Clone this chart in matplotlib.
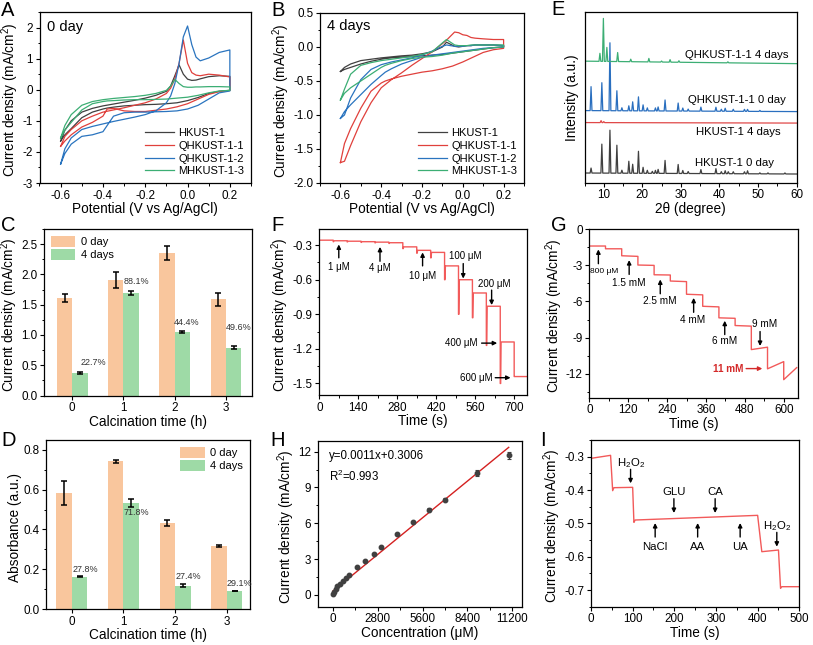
import numpy as np
import matplotlib
matplotlib.use("Agg")
import matplotlib.pyplot as plt
from matplotlib.ticker import MultipleLocator

plt.rcParams["font.family"] = ["Liberation Sans", "DejaVu Sans"]
plt.rcParams["mathtext.fontset"] = "custom"
plt.rcParams["mathtext.rm"] = "Liberation Sans"
plt.rcParams["mathtext.it"] = "Liberation Sans:italic"
plt.rcParams["axes.unicode_minus"] = False
plt.rcParams["axes.linewidth"] = 0.9

W, H = 813, 645

# ---------------- data ----------------
# CV curves (A: 0 day, B: 4 days) on forward / reverse potential grids
e_fwd = [-0.6, -0.58, -0.55, -0.5, -0.45, -0.4, -0.35, -0.3, -0.25, -0.2, -0.15, -0.1,
         -0.08, -0.06, -0.04, -0.02, 0.0, 0.02, 0.04, 0.06, 0.1, 0.15, 0.2]
e_rev = [0.2, 0.15, 0.1, 0.05, 0.0, -0.05, -0.1, -0.15, -0.2, -0.25, -0.3, -0.35, -0.38,
         -0.4, -0.45, -0.5, -0.55, -0.58, -0.6]
cv_names = ["HKUST-1", "QHKUST-1-1", "QHKUST-1-2", "MHKUST-1-3"]
cv_colors = ["#404040", "#e0403c", "#2a74bf", "#3cae74"]

a_fwd_hk = [-1.65, -1.3, -1.0, -0.72, -0.6, -0.52, -0.46, -0.4, -0.34, -0.27, -0.18, -0.05,
            0.12, 0.45, 0.8, 0.5, 0.34, 0.3, 0.31, 0.35, 0.42, 0.45, 0.43]
a_rev_hk = [-0.02, -0.05, -0.12, -0.25, -0.35, -0.42, -0.45, -0.47, -0.48, -0.5, -0.52, -0.56,
            -0.59, -0.62, -0.72, -0.9, -1.25, -1.45, -1.65]
a_fwd_q1 = [-1.82, -1.5, -1.28, -1.0, -0.85, -0.72, -0.65, -0.58, -0.5, -0.42, -0.3, -0.12,
            0.05, 0.35, 0.85, 1.6, 0.85, 0.55, 0.47, 0.45, 0.5, 0.47, 0.41]
a_rev_q1 = [-0.02, -0.06, -0.15, -0.3, -0.45, -0.55, -0.62, -0.66, -0.7, -0.7, -0.68, -0.6,
            -0.62, -0.85, -1.05, -1.2, -1.45, -1.65, -1.82]
a_fwd_q2 = [-2.39, -1.9, -1.55, -1.28, -1.18, -1.1, -1.02, -0.95, -0.88, -0.8, -0.68, -0.42,
            -0.2, 0.2, 0.85, 1.7, 2.05, 1.45, 1.05, 0.93, 1.02, 1.2, 1.28]
a_rev_q2 = [-0.04, -0.1, -0.3, -0.5, -0.62, -0.68, -0.7, -0.71, -0.72, -0.72, -0.74, -0.85,
            -1.15, -1.35, -1.45, -1.5, -1.75, -2.05, -2.39]
a_fwd_m3 = [-1.55, -1.15, -0.8, -0.5, -0.38, -0.32, -0.28, -0.25, -0.22, -0.18, -0.12, -0.02,
            0.12, 0.33, 0.2, 0.1, 0.08, 0.08, 0.09, 0.09, 0.1, 0.1, 0.09]
a_rev_m3 = [-0.02, -0.04, -0.1, -0.18, -0.24, -0.27, -0.3, -0.31, -0.32, -0.32, -0.33, -0.35,
            -0.36, -0.38, -0.45, -0.65, -1.05, -1.3, -1.55]

b_fwd_hk = [-0.36, -0.3, -0.25, -0.2, -0.18, -0.16, -0.145, -0.13, -0.12, -0.1, -0.07, 0.0,
            0.07, 0.04, 0.01, 0.0, 0.01, 0.02, 0.02, 0.03, 0.03, 0.03, 0.02]
b_rev_hk = [0.0, -0.01, -0.03, -0.05, -0.07, -0.09, -0.11, -0.12, -0.13, -0.14, -0.15, -0.16,
            -0.17, -0.18, -0.21, -0.25, -0.3, -0.33, -0.36]
b_fwd_q1 = [-1.7, -1.68, -1.45, -1.1, -0.82, -0.6, -0.48, -0.38, -0.27, -0.17, -0.07, 0.05,
            0.1, 0.16, 0.22, 0.21, 0.18, 0.17, 0.14, 0.13, 0.12, 0.11, 0.11]
b_rev_q1 = [-0.02, -0.04, -0.08, -0.15, -0.22, -0.28, -0.32, -0.35, -0.37, -0.4, -0.43, -0.47,
            -0.5, -0.53, -0.65, -0.9, -1.2, -1.42, -1.7]
b_fwd_q2 = [-1.05, -1.0, -0.75, -0.48, -0.33, -0.26, -0.22, -0.19, -0.16, -0.12, -0.06, 0.01,
            0.03, 0.02, 0.01, 0.01, 0.01, 0.02, 0.02, 0.03, 0.03, 0.03, 0.02]
b_rev_q2 = [0.0, -0.01, -0.02, -0.04, -0.06, -0.08, -0.1, -0.12, -0.15, -0.2, -0.25, -0.32,
            -0.37, -0.42, -0.55, -0.7, -0.85, -0.95, -1.05]
b_fwd_m3 = [-0.78, -0.62, -0.4, -0.27, -0.23, -0.2, -0.18, -0.16, -0.14, -0.11, -0.07, 0.06,
            0.11, 0.07, 0.03, 0.02, 0.02, 0.02, 0.03, 0.03, 0.03, 0.03, 0.03]
b_rev_m3 = [0.0, -0.01, -0.03, -0.05, -0.07, -0.09, -0.12, -0.14, -0.15, -0.17, -0.2, -0.24,
            -0.27, -0.3, -0.4, -0.5, -0.6, -0.68, -0.78]

# XRD (E): peak positions (2theta) and heights, baselines (start, end)
xrd_hk0_pos = [6.7, 9.5, 11.6, 13.4, 14.7, 16.5, 17.5, 19.0, 20.2, 21.3, 22.6, 23.4, 24.1, 25.9,
               29.3, 30.5, 31.9, 35.2, 39.1, 40.5, 41.5, 42.3, 43.6, 46.5, 47.3, 50.5, 52.6, 57.0]
xrd_hk0_h = [5, 29, 43, 28, 3, 12, 9, 22, 6, 3, 2, 3, 4, 13, 9, 3, 2, 4, 5, 2, 3, 2, 2, 2, 3, 1, 1, 1]
xrd_q0_pos = [6.7, 9.5, 11.6, 13.4, 14.7, 16.5, 17.5, 19.0, 20.2, 21.3, 23.4, 24.1, 25.9, 29.3,
              30.5, 31.9, 35.2, 39.1, 40.5, 41.5, 43.6, 46.5, 47.3, 50.5]
xrd_q0_h = [24, 28, 68, 20, 3, 5, 9, 14, 6, 3, 3, 4, 11, 8, 3, 2, 4, 4, 2, 3, 2, 2, 2, 1]
xrd_q4_pos = [9.0, 9.9, 10.8, 13.6, 17.0, 21.7, 25.0, 27.2, 29.5, 42.2]
xrd_q4_h = [8, 43, 14, 9, 2.5, 3.5, 1, 2.5, 1.5, 1]
xrd_hk4_pos = [9.3, 10.0]
xrd_hk4_h = [2, 1]
xrd_base_hk0 = (9.5, 8.5)
xrd_base_hk4 = (60.0, 59.5)
xrd_base_q0 = (72.0, 71.0)
xrd_base_q4 = (121.5, 119.0)

# bar charts (C, D)
calc_time = [0, 1, 2, 3]
c_day0 = [1.61, 1.91, 2.35, 1.59]
c_day0_err = [0.06, 0.13, 0.12, 0.11]
c_day4 = [0.368, 1.69, 1.044, 0.786]
c_day4_err = [0.015, 0.03, 0.015, 0.025]
c_pct = ["22.7%", "88.1%", "44.4%", "49.6%"]
d_day0 = [0.583, 0.743, 0.432, 0.316]
d_day0_err = [0.061, 0.007, 0.017, 0.005]
d_day4 = [0.163, 0.533, 0.118, 0.091]
d_day4_err = [0.002, 0.02, 0.008, 0.002]
d_pct = ["27.8%", "71.8%", "27.4%", "29.1%"]

# i-t (F): step times, plateau levels, transient minimum at each step
f_t = [0, 50, 100, 150, 200, 250, 300, 350, 400, 450, 500, 550, 600, 650, 700]
f_level = [-0.257, -0.262, -0.266, -0.270, -0.274, -0.279, -0.315, -0.345, -0.363,
           -0.48, -0.60, -0.715, -0.83, -1.14, -1.44]
f_spike = [-0.257, -0.27, -0.272, -0.276, -0.28, -0.285, -0.33, -0.37, -0.41,
           -0.60, -0.90, -0.93, -1.17, -1.50, -1.44]
f_tend = 745

# i-t (G): step times, plateau start / end values
g_t = [0, 50, 100, 150, 200, 250, 300, 350, 400, 450, 500, 550, 600]
g_start = [-1.39, -1.62, -2.2, -2.97, -3.78, -4.3, -5.4, -6.4, -7.36, -8.0, -10.0, -11.6, -12.5]
g_end = [-1.39, -1.62, -2.25, -3.0, -3.8, -4.35, -5.45, -6.45, -7.4, -8.05, -9.8, -11.0, -11.5]
g_tend = 640

# calibration (H)
h_conc = [0, 80, 170, 250, 450, 620, 830, 1040, 1540, 2040, 2540, 3010, 3990, 5030, 6000,
          7000, 8980, 10970]
h_j = [0.03, 0.22, 0.47, 0.70, 0.92, 1.17, 1.40, 1.62, 2.29, 2.85, 3.46, 4.02, 5.11, 6.14,
       7.14, 7.98, 10.19, 11.7]
h_err = [0.04, 0.04, 0.04, 0.04, 0.05, 0.05, 0.05, 0.05, 0.06, 0.06, 0.08, 0.08, 0.08, 0.08,
         0.1, 0.1, 0.25, 0.3]
h_fit = [0.0011, 0.3006]

# interference (I)
i_t = [0, 47, 52, 55, 100, 103, 106, 400, 410, 450, 455, 458, 500]
i_j = [-0.305, -0.296, -0.402, -0.393, -0.392, -0.497, -0.490, -0.476, -0.585, -0.580,
       -0.695, -0.690, -0.690]

# ---------------- figure ----------------
fig = plt.figure(figsize=(W / 100, H / 100), dpi=100)


def add_ax(x0, y0, x1, y1):
    return fig.add_axes([x0 / W, 1 - y1 / H, (x1 - x0) / W, (y1 - y0) / H])


def style(ax, xmaj=None, xmin=None, ymaj=None, ymin=None):
    ax.tick_params(which="major", direction="out", length=3.2, width=0.8, labelsize=8.4, pad=1.5)
    ax.tick_params(which="minor", direction="out", length=1.8, width=0.7)
    if xmaj:
        ax.xaxis.set_major_locator(MultipleLocator(xmaj))
    if xmin:
        ax.xaxis.set_minor_locator(MultipleLocator(xmin))
    if ymaj:
        ax.yaxis.set_major_locator(MultipleLocator(ymaj))
    if ymin:
        ax.yaxis.set_minor_locator(MultipleLocator(ymin))


def letter(x, y, s):
    fig.text(x / W, 1 - y / H, s, fontsize=14.5, ha="left", va="top")


JLAB = "Current density (mA/cm$^2$)"
LABFS = 9.8


def ylab(ax, s):
    ax.set_ylabel(s, fontsize=LABFS, labelpad=1)
    ax.yaxis.label.set_y(0.485)


# A
axA = add_ax(39.5, 12, 251, 183)
for f, r, c, n in zip([a_fwd_hk, a_fwd_q1, a_fwd_q2, a_fwd_m3],
                      [a_rev_hk, a_rev_q1, a_rev_q2, a_rev_m3], cv_colors, cv_names):
    axA.plot(e_fwd + e_rev, f + r, color=c, lw=0.9, label=n)
axA.set_xlim(-0.7, 0.3)
axA.set_ylim(-3, 2.5)
style(axA, 0.2, 0.1, 1, 0.5)
axA.xaxis.set_major_formatter(plt.FuncFormatter(lambda v, p: f"{v:.1f}"))
axA.set_xlabel("Potential (V vs Ag/AgCl)", fontsize=LABFS, labelpad=0.5)
ylab(axA, JLAB)
axA.text(0.035, 0.91, "0 day", transform=axA.transAxes, fontsize=10.5, va="center")
axA.legend(loc="lower right", frameon=False, fontsize=8, handlelength=2.6,
           handletextpad=0.4, labelspacing=0.25, borderaxespad=0.2)
letter(1, 1, "A")

# B
axB = add_ax(320, 13, 524, 183)
for f, r, c, n in zip([b_fwd_hk, b_fwd_q1, b_fwd_q2, b_fwd_m3],
                      [b_rev_hk, b_rev_q1, b_rev_q2, b_rev_m3], cv_colors, cv_names):
    axB.plot(e_fwd + e_rev, f + r, color=c, lw=0.9, label=n)
axB.set_xlim(-0.7, 0.3)
axB.set_ylim(-2.0, 0.5)
style(axB, 0.2, 0.1, 0.5, 0.25)
axB.xaxis.set_major_formatter(plt.FuncFormatter(lambda v, p: f"{v:.1f}"))
axB.yaxis.set_major_formatter(plt.FuncFormatter(lambda v, p: f"{v:.1f}"))
axB.set_xlabel("Potential (V vs Ag/AgCl)", fontsize=LABFS, labelpad=0.5)
ylab(axB, JLAB)
axB.text(0.035, 0.925, "4 days", transform=axB.transAxes, fontsize=10.5, va="center")
axB.legend(loc="lower right", frameon=False, fontsize=8, handlelength=2.6,
           handletextpad=0.4, labelspacing=0.25, borderaxespad=0.2)
letter(271, 1, "B")


# E
def xrd_trace(pos, h, base, hw=0.24):
    xs = [5.0]
    for p in pos:
        xs += [p - hw, p, p + hw]
    xs.append(60.0)
    xs = np.array(xs)
    ys = base[0] + (base[1] - base[0]) * (xs - 5.0) / 55.0
    peak = np.zeros_like(xs)
    peak[2:-1:3] = h
    return xs, ys + peak


axE = add_ax(584.5, 12, 796.5, 182.5)
for pos, h, base, c in [(xrd_hk0_pos, xrd_hk0_h, xrd_base_hk0, "#404040"),
                        (xrd_hk4_pos, xrd_hk4_h, xrd_base_hk4, "#e04848"),
                        (xrd_q0_pos, xrd_q0_h, xrd_base_q0, "#2a6fbf"),
                        (xrd_q4_pos, xrd_q4_h, xrd_base_q4, "#3cae74")]:
    xs, ys = xrd_trace(pos, h, base)
    axE.plot(xs, ys, color=c, lw=0.9)
axE.set_xlim(5, 60)
axE.set_ylim(0, 170.7)
style(axE, 10, 5)
axE.set_yticks([])
axE.set_xlabel("2θ (degree)", fontsize=LABFS, labelpad=0.5)
axE.set_ylabel("Intensity (a.u.)", fontsize=LABFS, labelpad=4)
for s, x, y in [("QHKUST-1-1 4 days", 58.0, 127.3), ("QHKUST-1-1 0 day", 57.2, 82.3),
                ("HKUST-1 4 days", 55.8, 50.7), ("HKUST-1 0 day", 54.2, 20.0)]:
    axE.text(x, y, s, fontsize=8.2, ha="right", va="center")
letter(551, 0, "E")

ORANGE = "#f9c69d"
GREEN = "#9edaa6"


def bars(ax, d0, e0, d4, e4):
    x = np.array(calc_time)
    ax.bar(x, d0, width=-0.3, align="edge", color=ORANGE, label="0 day")
    ax.bar(x, d4, width=0.3, align="edge", color=GREEN, label="4 days")
    ax.errorbar(x - 0.15, d0, yerr=e0, fmt="none", ecolor="k", elinewidth=1.1, capsize=2,
                capthick=1.1)
    ax.errorbar(x + 0.15, d4, yerr=e4, fmt="none", ecolor="k", elinewidth=1.1, capsize=2,
                capthick=1.1)
    ax.set_xticks(x)
    ax.set_xlabel("Calcination time (h)", fontsize=LABFS, labelpad=0.5)


# C
axC = add_ax(44, 229, 251.7, 395.5)
bars(axC, c_day0, c_day0_err, c_day4, c_day4_err)
axC.set_xlim(-0.55, 3.5)
axC.set_ylim(0, 2.75)
style(axC, ymaj=0.5, ymin=0.25)
axC.yaxis.set_major_formatter(plt.FuncFormatter(lambda v, p: f"{v:.1f}"))
ylab(axC, JLAB)
for s, x, y in zip(c_pct, [0.42, 1.26, 2.24, 3.24], [0.55, 1.885, 1.21, 1.115]):
    axC.text(x, y, s, fontsize=6.5, ha="center", va="center", color="#333333")
axC.legend(loc="upper left", frameon=False, fontsize=8, handlelength=2.2, handleheight=1.2,
           handletextpad=0.5, labelspacing=0.15, borderaxespad=0.2)
letter(1, 216, "C")

# D
axD = add_ax(46, 440, 250, 609)
bars(axD, d_day0, d_day0_err, d_day4, d_day4_err)
axD.set_xlim(-0.5, 3.45)
axD.set_ylim(0, 0.85)
style(axD, ymaj=0.2, ymin=0.1)
axD.yaxis.set_major_formatter(plt.FuncFormatter(lambda v, p: f"{v:.1f}"))
ylab(axD, "Absorbance (a.u.)")
for s, x, y in zip(d_pct, [0.26, 1.24, 2.26, 3.25], [0.2, 0.487, 0.161, 0.126]):
    axD.text(x, y, s, fontsize=6.5, ha="center", va="center", color="#333333")
axD.legend(loc="upper right", frameon=False, fontsize=8, handlelength=2.2, handleheight=1.2,
           handletextpad=0.5, labelspacing=0.15, borderaxespad=0.2)
letter(1, 431, "D")

ARR = dict(arrowstyle="-|>", color="k", lw=1.0, mutation_scale=6, shrinkA=0, shrinkB=0)
LINE_RED = "#f25a5a"

# F
ft, fj = [0, f_t[1]], [f_level[0], f_level[0]]
for i in range(1, len(f_t)):
    t0 = f_t[i]
    t1 = f_t[i + 1] if i + 1 < len(f_t) else f_tend
    ft += [t0, t0 + 1.5, t0 + 3, t1]
    fj += [f_spike[i], f_spike[i], f_level[i], f_level[i]]
axF = add_ax(319.3, 229, 526.7, 395)
axF.plot(ft, fj, color=LINE_RED, lw=1.0)
axF.set_xlim(0, 745)
axF.set_ylim(-1.6, -0.16)
style(axF, 140, 70, 0.3, 0.15)
axF.yaxis.set_major_formatter(plt.FuncFormatter(lambda v, p: f"{v:.1f}"))
axF.set_xlabel("Time (s)", fontsize=LABFS, labelpad=0.5)
ylab(axF, JLAB)
FS_F = 7
for s, x, tip, tail, ty in [("1 μM", 70, -0.294, -0.41, -0.49), ("4 μM", 218, -0.315, -0.44, -0.50),
                            ("10 μM", 371, -0.363, -0.48, -0.57)]:
    axF.annotate("", xy=(x, tip), xytext=(x, tail), arrowprops=ARR)
    axF.text(x, ty, s, fontsize=FS_F, ha="center", va="center")
for s, x, tip, tail, tx, ty in [("100 μM", 517, -0.59, -0.46, 525, -0.39),
                                ("200 μM", 619, -0.82, -0.69, 630, -0.64)]:
    axF.annotate("", xy=(x, tip), xytext=(x, tail), arrowprops=ARR)
    axF.text(tx, ty, s, fontsize=FS_F, ha="center", va="center")
for s, tx, ty, ax0, ax1 in [("400 μM", 570, -1.15, 583, 639), ("600 μM", 622, -1.45, 632, 687)]:
    axF.annotate("", xy=(ax1, ty), xytext=(ax0, ty), arrowprops=ARR)
    axF.text(tx, ty, s, fontsize=FS_F, ha="right", va="center")
letter(271, 216, "F")

# G
gt, gj = [], []
for i in range(len(g_t)):
    t0 = g_t[i]
    t1 = g_t[i + 1] if i + 1 < len(g_t) else g_tend
    gt += [t0, t1]
    gj += [g_start[i], g_end[i]]
axG = add_ax(589.3, 229.3, 798.3, 397.7)
axG.plot(gt, gj, color=LINE_RED, lw=1.0)
axG.set_xlim(0, 645)
axG.set_ylim(-14, 0)
style(axG, 120, 60, 3, 1.5)
axG.set_xlabel("Time (s)", fontsize=LABFS, labelpad=0.5)
ylab(axG, JLAB)
axG.annotate("", xy=(28, -1.67), xytext=(28, -2.86), arrowprops=ARR)
axG.text(45, -3.47, "800 μM", fontsize=6, ha="center", va="center")
for s, x, tip, tail, tx, ty in [("1.5 mM", 123, -2.56, -3.75, 123, -4.44),
                                ("2.5 mM", 219, -4.17, -5.36, 217, -5.97),
                                ("4 mM", 322, -5.7, -6.9, 319, -7.5),
                                ("6 mM", 418, -7.6, -8.75, 418, -9.25)]:
    axG.annotate("", xy=(x, tip), xytext=(x, tail), arrowprops=ARR)
    axG.text(tx, ty, s, fontsize=7.2, ha="center", va="center")
axG.annotate("", xy=(527, -9.7), xytext=(527, -8.5), arrowprops=ARR)
axG.text(540, -7.9, "9 mM", fontsize=7.2, ha="center", va="center")
axG.annotate("", xy=(534, -11.58), xytext=(484, -11.58),
             arrowprops=dict(ARR, color="#d42a2a"))
axG.text(474, -11.58, "11 mM", fontsize=7.2, ha="right", va="center", color="#d42a2a",
         fontweight="bold")
letter(551, 216, "G")

# H
axH = add_ax(317.7, 441, 521.7, 606.7)
xfit = np.array([0, h_conc[-1]])
axH.plot(xfit, np.polyval(h_fit, xfit), color="#d42020", lw=1.0)
axH.errorbar(h_conc, h_j, yerr=h_err, fmt="o", ms=3.2, color="#404040", ecolor="#404040",
             elinewidth=0.8, capsize=1.5, capthick=0.8)
axH.set_xlim(-940, 11780)
axH.set_ylim(-1, 12.9)
style(axH, 2800, 1400, 3, 1.5)
axH.set_xlabel("Concentration (μM)", fontsize=LABFS, labelpad=0.5)
ylab(axH, JLAB)
axH.text(-207, 11.64, "y=0.0011x+0.3006", fontsize=8.3, va="center")
axH.text(-207, 9.96, "R$^2$=0.993", fontsize=8.3, va="center")
letter(270, 431, "H")

# I
axI = add_ax(591, 440, 799.3, 606.7)
axI.plot(i_t, i_j, color=LINE_RED, lw=1.0)
axI.set_xlim(0, 500)
axI.set_ylim(-0.75, -0.25)
style(axI, 100, 50, 0.1, 0.05)
axI.yaxis.set_major_formatter(plt.FuncFormatter(lambda v, p: f"{v:.1f}"))
axI.set_xlabel("Time (s)", fontsize=LABFS, labelpad=0.5)
ylab(axI, JLAB)
for s, x, ty, tip, tail in [("H$_2$O$_2$", 95, -0.318, -0.38, -0.338),
                            ("GLU", 199, -0.406, -0.469, -0.426),
                            ("CA", 298, -0.406, -0.469, -0.426),
                            ("H$_2$O$_2$", 446, -0.509, -0.57, -0.527)]:
    axI.annotate("", xy=(x, tip), xytext=(x, tail), arrowprops=ARR)
    axI.text(x, ty, s, fontsize=8.2, ha="center", va="center")
for s, x in [("NaCl", 154), ("AA", 256), ("UA", 358)]:
    axI.annotate("", xy=(x, -0.499), xytext=(x, -0.541), arrowprops=ARR)
    axI.text(x, -0.57, s, fontsize=8.2, ha="center", va="center")
letter(540, 431, "I")

fig.savefig("out.png", dpi=100)
